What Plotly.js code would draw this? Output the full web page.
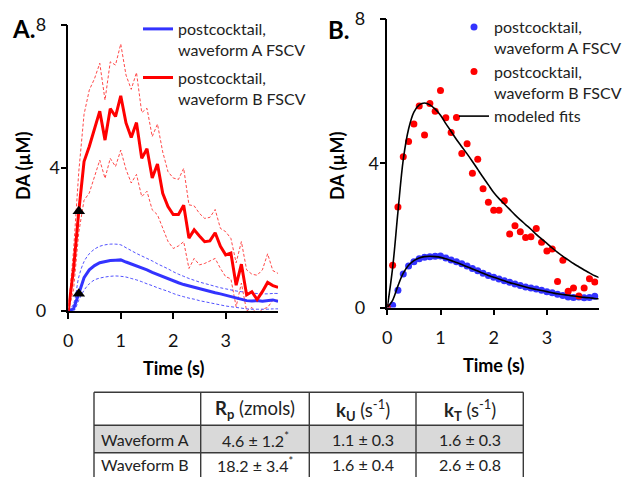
<!DOCTYPE html>
<html>
<head>
<meta charset="utf-8">
<script src="https://cdn.plot.ly/plotly-3.0.1.min.js"></script>
<style>html,body{margin:0;padding:0;background:#fff}#chart{width:627px;height:477px}</style>
</head>
<body>
<div id="chart"></div>
<script>
// ---------- data ----------
const time = [0.0,0.1,0.2,0.3,0.4,0.5,0.6,0.7,0.8,0.9,1.0,1.1,1.2,1.3,1.4,1.5,1.6,1.7,1.8,1.9,2.0,
              2.1,2.2,2.3,2.4,2.5,2.6,2.7,2.8,2.9,3.0,3.1,3.2,3.3,3.4,3.5,3.6,3.7,3.8,3.9,4.0];

// postcocktail, waveform B FSCV (mean, upper and lower bounds)
const daB      = [0,1.17,2.79,4.18,4.60,5.09,5.59,4.78,5.66,5.44,6.02,5.26,4.85,5.27,4.27,4.54,3.72,4.11,3.29,2.92,2.70,
                  2.70,2.96,2.04,2.27,2.10,1.94,1.96,2.19,1.81,1.57,1.62,0.72,1.31,0.45,0.54,0.32,0.54,0.80,0.71,0.66];
const daBUpper = [0,1.70,3.90,5.50,6.18,6.50,6.93,5.90,6.97,6.88,7.47,6.60,6.20,6.67,5.55,5.67,4.88,5.23,4.45,3.90,3.72,
                  3.68,3.99,2.97,2.94,2.73,2.59,2.62,2.84,2.31,2.22,2.03,1.35,1.94,1.15,1.03,1.00,1.15,1.60,1.13,1.05];
const daBLower = [0,0.60,2.20,3.10,3.30,3.75,4.22,3.71,4.27,4.04,4.50,3.96,3.58,3.82,3.20,3.35,2.83,2.69,2.30,1.95,1.75,
                  1.82,1.94,1.19,1.47,1.29,1.33,1.40,1.47,1.19,0.96,0.90,0.12,0.78,0.00,0.10,-0.10,0.05,0.10,0.30,0.30];

// postcocktail, waveform A FSCV (mean, upper and lower bounds)
const daA      = [0,0.06,0.48,0.93,1.15,1.27,1.35,1.39,1.41,1.42,1.43,1.37,1.32,1.27,1.21,1.15,1.08,1.02,0.95,0.89,0.84,
                  0.79,0.74,0.70,0.65,0.61,0.57,0.54,0.51,0.48,0.44,0.41,0.37,0.33,0.29,0.28,0.29,0.27,0.28,0.31,0.27];
const daAUpper = [0,0.20,0.95,1.38,1.60,1.73,1.81,1.85,1.87,1.87,1.85,1.77,1.69,1.61,1.54,1.47,1.40,1.32,1.25,1.18,1.10,
                  1.03,0.97,0.91,0.86,0.81,0.77,0.73,0.69,0.65,0.62,0.59,0.56,0.54,0.52,0.50,0.49,0.48,0.48,0.49,0.49];
const daALower = [0,0.00,0.30,0.58,0.76,0.87,0.92,0.95,0.97,0.98,0.97,0.95,0.91,0.87,0.82,0.76,0.71,0.65,0.60,0.55,0.49,
                  0.44,0.40,0.36,0.33,0.29,0.26,0.23,0.20,0.17,0.14,0.12,0.10,0.08,0.06,0.05,0.05,0.05,0.05,0.06,0.06];

// modeled fits
const fitB = [0,1.10,2.65,4.10,4.95,5.42,5.62,5.67,5.62,5.50,5.33,5.10,4.88,4.66,4.46,4.26,4.05,3.83,3.61,3.40,3.19,
              3.02,2.87,2.72,2.57,2.43,2.30,2.17,2.03,1.90,1.78,1.65,1.53,1.42,1.32,1.22,1.13,1.04,0.96,0.88,0.82];
const fitA = [0,0.20,0.60,0.95,1.17,1.30,1.37,1.41,1.42,1.41,1.39,1.35,1.30,1.25,1.19,1.13,1.07,1.01,0.95,0.89,0.84,
              0.79,0.74,0.69,0.65,0.61,0.57,0.53,0.50,0.47,0.44,0.41,0.38,0.36,0.34,0.32,0.30,0.28,0.27,0.25,0.24];

// stimulation markers (triangles)
const markTime  = [0.2, 0.2];
const markValue = [2.79, 0.48];

// table
const tableHeader = ['', '<b>R<sub>p</sub></b> (zmols)', '<b>k<sub>U</sub></b> (s<sup>-1</sup>)', '<b>k<sub>T</sub></b> (s<sup>-1</sup>)'];
const tableRows = ['Waveform A', 'Waveform B'];
const rpValues  = ['4.6 ± 1.2<sup>*</sup>', '18.2 ± 3.4<sup>*</sup>'];
const kuValues  = ['1.1 ± 0.3', '1.6 ± 0.4'];
const ktValues  = ['1.6 ± 0.3', '2.6 ± 0.8'];
const rowFills  = ['#d9d9d9', '#ffffff'];

const xTicks = [0, 1, 2, 3];
const yTicks = [0, 4, 8];
const NB = '\u00a0';
// the reference sets "0" and "8" further from the axis than "4"
const yTickText = ['0' + NB.repeat(3), '4', '8' + NB.repeat(3)];

// ---------- styling ----------
const W = 627, H = 477;
const px = x => x / W;
const py = y => 1 - y / H;
const FONT = 'Lato, "Open Sans", sans-serif';
const RED = 'rgb(255,0,0)';
const BLUE = 'rgb(51,51,255)';
const nB = 40; // points shown as dots in panel B

const traces = [
  // Panel A
  {x: time, y: daBUpper, xaxis:'x', yaxis:'y', mode:'lines', line:{color:'rgba(255,40,40,0.85)', width:1, dash:'3px,2px'}, showlegend:false, hoverinfo:'skip'},
  {x: time, y: daBLower, xaxis:'x', yaxis:'y', mode:'lines', line:{color:'rgba(255,40,40,0.85)', width:1, dash:'3px,2px'}, showlegend:false, hoverinfo:'skip'},
  {x: time, y: daAUpper, xaxis:'x', yaxis:'y', mode:'lines', line:{color:'rgba(51,51,255,0.85)', width:1, dash:'3px,2px', shape:'spline'}, showlegend:false, hoverinfo:'skip'},
  {x: time, y: daALower, xaxis:'x', yaxis:'y', mode:'lines', line:{color:'rgba(51,51,255,0.85)', width:1, dash:'3px,2px', shape:'spline'}, showlegend:false, hoverinfo:'skip'},
  {x: time, y: daA, xaxis:'x', yaxis:'y', mode:'lines', line:{color:BLUE, width:3}, name:'postcocktail,<br>waveform A FSCV', legend:'legend', legendgroup:'a'},
  {x: time, y: daB, xaxis:'x', yaxis:'y', mode:'lines', line:{color:RED, width:3}, name:'postcocktail,<br>waveform B FSCV', legend:'legend', legendgroup:'b'},
  {x: markTime, y: markValue, xaxis:'x', yaxis:'y', mode:'markers', marker:{symbol:'triangle-up', size:11, color:'#000'}, showlegend:false},
  // Panel B
  {x: time.slice(0,nB), y: daA.slice(0,nB), xaxis:'x2', yaxis:'y2', mode:'markers', marker:{color:BLUE, size:7}, name:'postcocktail,<br>waveform A FSCV', legend:'legend2'},
  {x: time.slice(0,nB), y: daB.slice(0,nB), xaxis:'x2', yaxis:'y2', mode:'markers', marker:{color:RED, size:7}, name:'postcocktail,<br>waveform B FSCV', legend:'legend2'},
  {x: time, y: fitB, xaxis:'x2', yaxis:'y2', mode:'lines', line:{color:'#000', width:1.6, shape:'spline'}, name:'modeled fits', legend:'legend2'},
  {x: time, y: fitA, xaxis:'x2', yaxis:'y2', mode:'lines', line:{color:'#000', width:1.6, shape:'spline'}, showlegend:false}
];

// ---------- table (built from the arrays above) ----------
const colEdges = [94, 200.7, 309.3, 416, 523.3];
const rowEdges = [392.3, 425.3, 452.7, 480];
const LINE = {color:'#3a3a3a', width:1.4};
const shapes = [];
const annotations = [];
const bodyCols = [tableRows, rpValues, kuValues, ktValues];
tableRows.forEach((r, i) => {
  shapes.push({type:'rect', xref:'paper', yref:'paper', layer:'below',
    x0:px(colEdges[0]), x1:px(colEdges[4]), y0:py(rowEdges[i+1]), y1:py(rowEdges[i+2]),
    fillcolor:rowFills[i], line:{width:0}});
});
rowEdges.forEach(y => shapes.push({type:'line', xref:'paper', yref:'paper', x0:px(colEdges[0]), x1:px(colEdges[4]), y0:py(y), y1:py(y), line:LINE}));
colEdges.forEach(x => shapes.push({type:'line', xref:'paper', yref:'paper', x0:px(x), x1:px(x), y0:py(rowEdges[0]), y1:py(rowEdges[3]), line:LINE}));
tableHeader.forEach((t, c) => {
  if (!t) return;
  annotations.push({text:t, xref:'paper', yref:'paper', x:px((colEdges[c]+colEdges[c+1])/2), y:py((rowEdges[0]+rowEdges[1])/2 + 1),
    xanchor:'center', yanchor:'middle', showarrow:false, font:{family:FONT, size:18.5, color:'#222'}});
});
bodyCols.forEach((col, c) => {
  col.forEach((t, r) => {
    const left = c === 0;
    annotations.push({text:t, xref:'paper', yref:'paper',
      x: left ? px(colEdges[0] + 5) : px((colEdges[c]+colEdges[c+1])/2),
      y: py((rowEdges[r+1]+rowEdges[r+2])/2 + (r === 1 ? -1.5 : 0)),
      xanchor: left ? 'left' : 'center', yanchor:'middle', showarrow:false,
      font:{family:FONT, size:16, color:'#222'}});
  });
});

// ---------- axes, titles, legends ----------
const axisCommon = {
  showgrid:false, zeroline:false, showline:true, linecolor:'#000', linewidth:1.5,
  ticks:'outside', ticklen:6, tickcolor:'#000', tickwidth:1.5,
  tickfont:{family:FONT, size:18, color:'#111'}, fixedrange:true
};

annotations.push(
  {text:'<b>A.</b>', xref:'paper', yref:'paper', x:px(10), y:py(28), xanchor:'left', yanchor:'middle', showarrow:false, font:{family:FONT, size:24, color:'#000'}},
  {text:'<b>B.</b>', xref:'paper', yref:'paper', x:px(326), y:py(30), xanchor:'left', yanchor:'middle', showarrow:false, font:{family:FONT, size:24, color:'#000'}},
  {text:'<b>DA (µM)</b>', xref:'paper', yref:'paper', x:px(23), y:py(166), xanchor:'center', yanchor:'middle', textangle:-90, showarrow:false, font:{family:FONT, size:18, color:'#000'}},
  {text:'<b>DA (µM)</b>', xref:'paper', yref:'paper', x:px(337), y:py(166), xanchor:'center', yanchor:'middle', textangle:-90, showarrow:false, font:{family:FONT, size:18, color:'#000'}},
  {text:'<b>Time (s)</b>', xref:'paper', yref:'paper', x:px(173), y:py(368), xanchor:'center', yanchor:'middle', showarrow:false, font:{family:FONT, size:18, color:'#000'}},
  {text:'<b>Time (s)</b>', xref:'paper', yref:'paper', x:px(493), y:py(365), xanchor:'center', yanchor:'middle', showarrow:false, font:{family:FONT, size:18, color:'#000'}}
);

const layout = {
  width: W, height: H,
  margin:{l:0, r:0, t:0, b:0},
  paper_bgcolor:'#fff', plot_bgcolor:'rgba(0,0,0,0)',
  font:{family:FONT, color:'#222'},
  xaxis: Object.assign({}, axisCommon, {domain:[px(68.3), px(278.1)], range:[0, 4], tickvals:xTicks, ticklabelstandoff:7, anchor:'y'}),
  yaxis: Object.assign({}, axisCommon, {domain:[py(311), py(25)], range:[0, 8], tickvals:yTicks, ticktext:yTickText, ticklabelstandoff:-3, anchor:'x'}),
  xaxis2: Object.assign({}, axisCommon, {domain:[px(387.3), px(598.5)], range:[0, 3.97], tickvals:xTicks, ticklabelstandoff:7, anchor:'y2'}),
  yaxis2: Object.assign({}, axisCommon, {domain:[py(307.5), py(19)], range:[0, 8], tickvals:yTicks, ticktext:yTickText, ticklabelstandoff:-3, anchor:'x2'}),
  showlegend:true,
  legend:{x:px(138), y:py(12), xanchor:'left', yanchor:'top', bgcolor:'rgba(0,0,0,0)', font:{family:FONT, size:16, color:'#222'}, valign:'top', tracegroupgap:4, itemclick:false},
  legend2:{x:1, y:py(10), xanchor:'right', yanchor:'top', bgcolor:'rgba(0,0,0,0)', font:{family:FONT, size:16, color:'#222'}, valign:'top', tracegroupgap:0, itemclick:false},
  shapes: shapes,
  annotations: annotations
};

Plotly.newPlot('chart', traces, layout, {displayModeBar:false});
</script>
</body>
</html>
